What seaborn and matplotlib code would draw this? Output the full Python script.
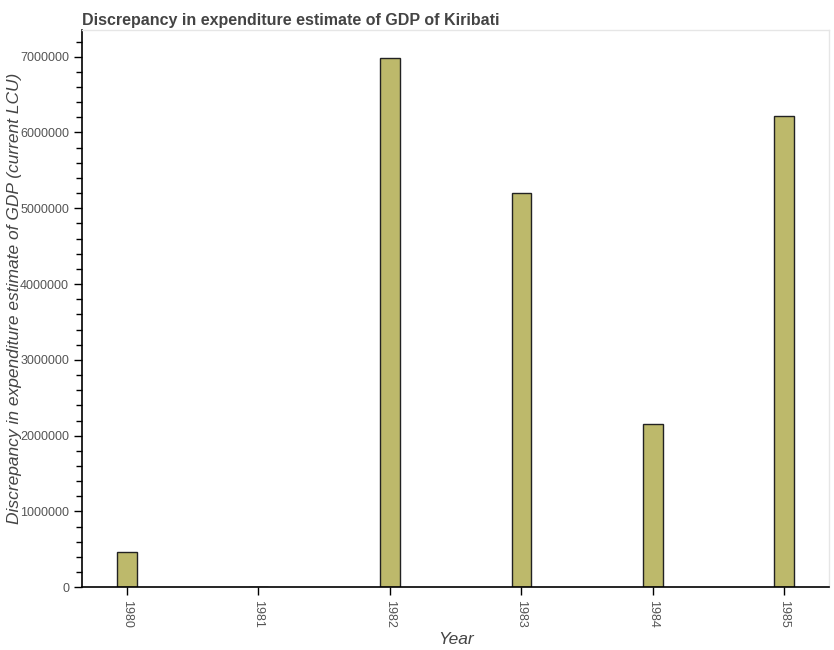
import matplotlib
matplotlib.use("Agg")
import matplotlib.pyplot as plt
import seaborn as sns
import pandas as pd
from matplotlib.ticker import MultipleLocator

years = ["1980", "1981", "1982", "1983", "1984", "1985"]
values = [461000, 0, 6980000, 5205000, 2155000, 6220000]

df = pd.DataFrame({"Year": years, "Value": values})

sns.set_style("white")
plt.rcParams['font.family'] = ['Liberation Sans', 'DejaVu Sans']

fig = plt.figure(figsize=(8.34, 6.5), dpi=100)
ax = fig.add_axes([0.0987, 0.0965, 0.994 - 0.0987, 0.9543 - 0.0965])

sns.barplot(data=df, x="Year", y="Value", order=years, color="#bdb96b",
            saturation=1, width=0.15, edgecolor="#222222", linewidth=1.0, ax=ax)

ax.set_xlim(-0.34, 5.34)
ax.set_ylim(0, 7356000)
ax.yaxis.set_major_locator(MultipleLocator(1000000))
ax.yaxis.set_minor_locator(MultipleLocator(200000))
ax.yaxis.set_major_formatter(matplotlib.ticker.FuncFormatter(lambda v, p: f"{int(v)}"))

ax.tick_params(axis="both", which="both", direction="out", color="black", left=True, bottom=True)
ax.tick_params(axis="y", which="major", length=6, width=1, labelsize=9, labelcolor="#555555")
ax.tick_params(axis="y", which="minor", length=4, width=1)
ax.tick_params(axis="x", which="major", length=6, width=1, labelsize=9, labelcolor="#555555", labelrotation=-90)

for s in ["left", "bottom"]:
    ax.spines[s].set_color("black")
    ax.spines[s].set_linewidth(1.2)
for s in ["top", "right"]:
    ax.spines[s].set_color("#e6e6e6")
    ax.spines[s].set_linewidth(1.0)

ax.set_xlabel("Year", fontsize=12.5, style="italic", color="#444444")
ax.set_ylabel("Discrepancy in expenditure estimate of GDP (current LCU)", fontsize=12.5,
              style="italic", color="#444444")
ax.xaxis.set_label_coords(0.5, -(632 - 587.3) / 557.6)
ax.yaxis.set_label_coords(-(82.3 - 22) / 746.7, 0.518)

fig.text(0.0987, 1 - 20 / 650, "Discrepancy in expenditure estimate of GDP of Kiribati",
         fontsize=11.5, fontweight="bold", color="#444444", ha="left", va="center")

fig.savefig("out.png", dpi=100)
